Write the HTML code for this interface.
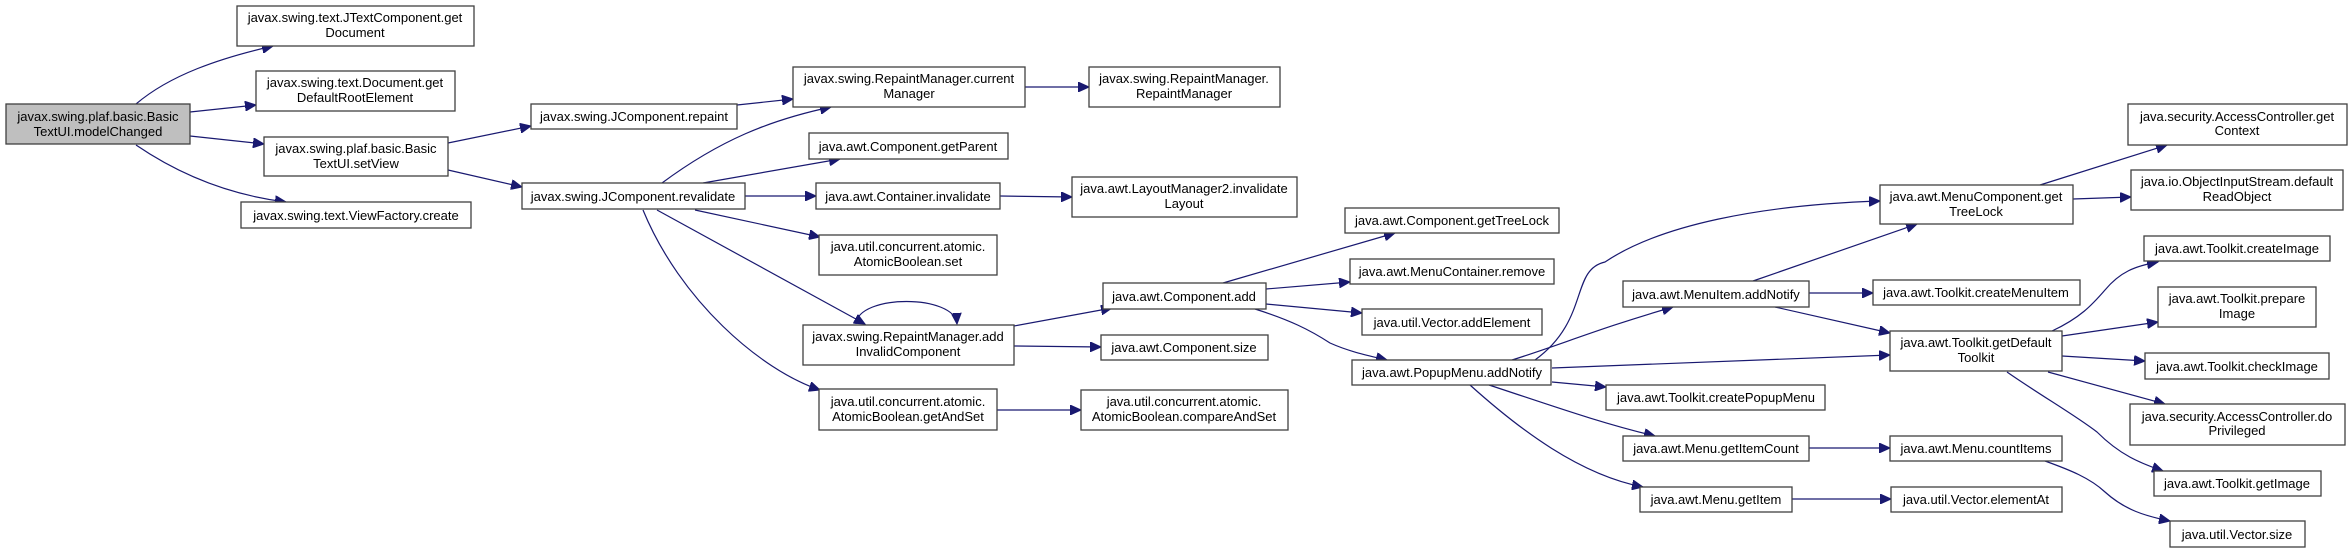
<!DOCTYPE html>
<html><head><meta charset="utf-8"><style>
html,body{margin:0;padding:0;background:#fff;}
svg{display:block;}
text{font-family:"Liberation Sans",Arial,sans-serif;font-size:13px;fill:#000;text-anchor:middle;}
.n{fill:#fff;stroke:#404040;stroke-width:1.3;}
.g{fill:#bfbfbf;stroke:#404040;stroke-width:1.3;}
.e{fill:none;stroke:#191970;stroke-width:1.2;}
</style></head><body>
<svg width="2352" height="553" viewBox="0 0 2352 553" xmlns="http://www.w3.org/2000/svg">
<defs><marker id="a" markerUnits="userSpaceOnUse" markerWidth="12" markerHeight="10" refX="11" refY="5" orient="auto"><path d="M0,0 L11,5 L0,10 z" fill="#191970" stroke="#191970"/></marker></defs>
<g marker-end="url(#a)">
<path class="e" d="M136,104 C170,75 220,58 273,46"/>
<path class="e" d="M190,112 L256,105"/>
<path class="e" d="M190,136 L264,144"/>
<path class="e" d="M136,145 C180,175 230,195 286,202"/>
<path class="e" d="M448,143 L531,126"/>
<path class="e" d="M448,170 L522,187"/>
<path class="e" d="M737,105 L793,99"/>
<path class="e" d="M662,183 C720,140 770,120 831,107"/>
<path class="e" d="M703,183 L840,159"/>
<path class="e" d="M745,196 L816,196"/>
<path class="e" d="M695,210 L820,237"/>
<path class="e" d="M657,210 L865,324"/>
<path class="e" d="M643,210 C680,300 760,370 820,390"/>
<path class="e" d="M856,324 C858,294 955,294 957,324"/>
<path class="e" d="M1014,326 L1112,308"/>
<path class="e" d="M1014,346 L1101,347"/>
<path class="e" d="M997,410 L1081,410"/>
<path class="e" d="M1000,196 L1072,197"/>
<path class="e" d="M1025,87 L1089,87"/>
<path class="e" d="M1223,283 L1395,233"/>
<path class="e" d="M1266,289 L1350,282"/>
<path class="e" d="M1266,304 L1362,313"/>
<path class="e" d="M1255,309 C1290,320 1310,330 1330,343 C1350,352 1370,356 1387,360"/>
<path class="e" d="M1535,360 C1590,320 1570,270 1605,262 C1660,225 1760,205 1880,201"/>
<path class="e" d="M1512,360 C1560,345 1600,328 1673,307"/>
<path class="e" d="M1552,368 L1890,355"/>
<path class="e" d="M1552,382 L1606,387"/>
<path class="e" d="M1489,385 C1550,405 1600,423 1655,436"/>
<path class="e" d="M1470,385 C1520,430 1580,475 1643,487"/>
<path class="e" d="M1753,281 L1917,224"/>
<path class="e" d="M1809,293 L1873,293"/>
<path class="e" d="M1775,307 L1890,333"/>
<path class="e" d="M1809,448 L1890,448"/>
<path class="e" d="M1792,499 L1891,499"/>
<path class="e" d="M2040,185 L2167,145"/>
<path class="e" d="M2073,199 L2131,197"/>
<path class="e" d="M2052,331 C2080,318 2092,305 2105,290 C2120,272 2135,266 2158,262"/>
<path class="e" d="M2062,336 L2158,322"/>
<path class="e" d="M2062,356 L2145,361"/>
<path class="e" d="M2048,372 L2165,404"/>
<path class="e" d="M2007,372 C2040,395 2075,415 2097,432 C2120,455 2140,463 2163,471"/>
<path class="e" d="M2045,461 C2070,470 2090,478 2105,492 C2125,510 2145,516 2170,521"/>
</g>
<rect class="g" x="6" y="104" width="184" height="40"/><text x="98" y="121">javax.swing.plaf.basic.Basic</text><text x="98" y="136">TextUI.modelChanged</text>
<rect class="n" x="237" y="6" width="237" height="40"/><text x="355" y="22">javax.swing.text.JTextComponent.get</text><text x="355" y="37">Document</text>
<rect class="n" x="256" y="71" width="199" height="40"/><text x="355" y="87">javax.swing.text.Document.get</text><text x="355" y="102">DefaultRootElement</text>
<rect class="n" x="264" y="137" width="184" height="39"/><text x="356" y="153">javax.swing.plaf.basic.Basic</text><text x="356" y="168">TextUI.setView</text>
<rect class="n" x="241" y="202" width="230" height="26"/><text x="356" y="220">javax.swing.text.ViewFactory.create</text>
<rect class="n" x="531" y="104" width="206" height="25"/><text x="634" y="121">javax.swing.JComponent.repaint</text>
<rect class="n" x="522" y="183" width="223" height="26"/><text x="633" y="201">javax.swing.JComponent.revalidate</text>
<rect class="n" x="793" y="67" width="232" height="40"/><text x="909" y="83">javax.swing.RepaintManager.current</text><text x="909" y="98">Manager</text>
<rect class="n" x="1089" y="67" width="191" height="40"/><text x="1184" y="83">javax.swing.RepaintManager.</text><text x="1184" y="98">RepaintManager</text>
<rect class="n" x="809" y="133" width="199" height="26"/><text x="908" y="151">java.awt.Component.getParent</text>
<rect class="n" x="816" y="183" width="184" height="26"/><text x="908" y="201">java.awt.Container.invalidate</text>
<rect class="n" x="1072" y="177" width="225" height="40"/><text x="1184" y="193">java.awt.LayoutManager2.invalidate</text><text x="1184" y="208">Layout</text>
<rect class="n" x="819" y="235" width="178" height="40"/><text x="908" y="251">java.util.concurrent.atomic.</text><text x="908" y="266">AtomicBoolean.set</text>
<rect class="n" x="803" y="325" width="211" height="40"/><text x="908" y="341">javax.swing.RepaintManager.add</text><text x="908" y="356">InvalidComponent</text>
<rect class="n" x="819" y="389" width="178" height="41"/><text x="908" y="406">java.util.concurrent.atomic.</text><text x="908" y="421">AtomicBoolean.getAndSet</text>
<rect class="n" x="1101" y="335" width="167" height="25"/><text x="1184" y="352">java.awt.Component.size</text>
<rect class="n" x="1081" y="390" width="207" height="40"/><text x="1184" y="406">java.util.concurrent.atomic.</text><text x="1184" y="421">AtomicBoolean.compareAndSet</text>
<rect class="n" x="1103" y="283" width="163" height="26"/><text x="1184" y="301">java.awt.Component.add</text>
<rect class="n" x="1345" y="208" width="214" height="25"/><text x="1452" y="225">java.awt.Component.getTreeLock</text>
<rect class="n" x="1350" y="259" width="204" height="25"/><text x="1452" y="276">java.awt.MenuContainer.remove</text>
<rect class="n" x="1362" y="309" width="180" height="26"/><text x="1452" y="327">java.util.Vector.addElement</text>
<rect class="n" x="1352" y="360" width="199" height="25"/><text x="1452" y="377">java.awt.PopupMenu.addNotify</text>
<rect class="n" x="1623" y="281" width="186" height="26"/><text x="1716" y="299">java.awt.MenuItem.addNotify</text>
<rect class="n" x="1606" y="385" width="219" height="25"/><text x="1716" y="402">java.awt.Toolkit.createPopupMenu</text>
<rect class="n" x="1623" y="436" width="186" height="25"/><text x="1716" y="453">java.awt.Menu.getItemCount</text>
<rect class="n" x="1640" y="487" width="152" height="25"/><text x="1716" y="504">java.awt.Menu.getItem</text>
<rect class="n" x="1880" y="185" width="193" height="39"/><text x="1976" y="201">java.awt.MenuComponent.get</text><text x="1976" y="216">TreeLock</text>
<rect class="n" x="1873" y="280" width="207" height="25"/><text x="1976" y="297">java.awt.Toolkit.createMenuItem</text>
<rect class="n" x="1890" y="331" width="172" height="40"/><text x="1976" y="347">java.awt.Toolkit.getDefault</text><text x="1976" y="362">Toolkit</text>
<rect class="n" x="1890" y="436" width="172" height="25"/><text x="1976" y="453">java.awt.Menu.countItems</text>
<rect class="n" x="1891" y="487" width="171" height="25"/><text x="1976" y="504">java.util.Vector.elementAt</text>
<rect class="n" x="2128" y="104" width="219" height="41"/><text x="2237" y="121">java.security.AccessController.get</text><text x="2237" y="135">Context</text>
<rect class="n" x="2131" y="170" width="212" height="40"/><text x="2237" y="186">java.io.ObjectInputStream.default</text><text x="2237" y="201">ReadObject</text>
<rect class="n" x="2144" y="236" width="186" height="25"/><text x="2237" y="253">java.awt.Toolkit.createImage</text>
<rect class="n" x="2158" y="287" width="158" height="40"/><text x="2237" y="303">java.awt.Toolkit.prepare</text><text x="2237" y="318">Image</text>
<rect class="n" x="2145" y="353" width="184" height="26"/><text x="2237" y="371">java.awt.Toolkit.checkImage</text>
<rect class="n" x="2130" y="404" width="215" height="41"/><text x="2237" y="421">java.security.AccessController.do</text><text x="2237" y="435">Privileged</text>
<rect class="n" x="2154" y="471" width="167" height="25"/><text x="2237" y="488">java.awt.Toolkit.getImage</text>
<rect class="n" x="2170" y="521" width="135" height="26"/><text x="2237" y="539">java.util.Vector.size</text>
</svg>
</body></html>
